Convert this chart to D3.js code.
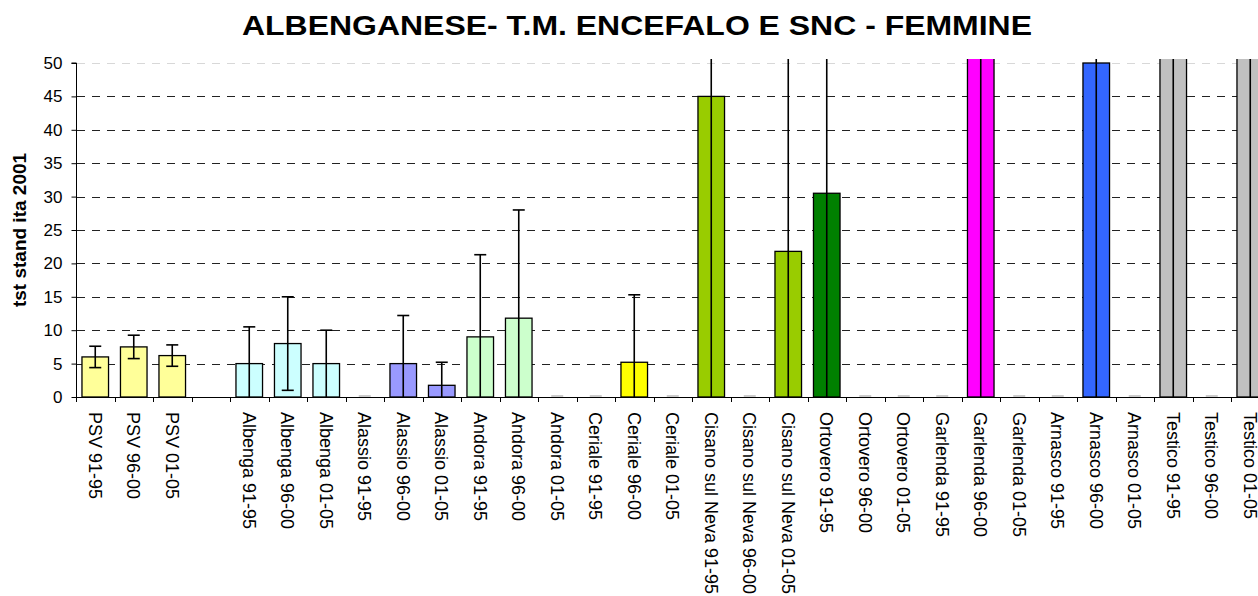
<!DOCTYPE html>
<html>
<head>
<meta charset="utf-8">
<script src="https://cdn.jsdelivr.net/npm/d3@7"></script>
<style>
  html, body { margin: 0; padding: 0; background: #fff; }
  svg { display: block; font-family: "Liberation Sans", Arial, sans-serif; }
</style>
</head>
<body>
<svg id="chart" width="1258" height="596"></svg>
<script>
// Categories (an empty slot separates the PSV group from the towns)
const categories = [
  "PSV 91-95", "PSV 96-00", "PSV 01-05", "",
  "Albenga 91-95", "Albenga 96-00", "Albenga 01-05",
  "Alassio 91-95", "Alassio 96-00", "Alassio 01-05",
  "Andora 91-95", "Andora 96-00", "Andora 01-05",
  "Ceriale 91-95", "Ceriale 96-00", "Ceriale 01-05",
  "Cisano sul Neva 91-95", "Cisano sul Neva 96-00", "Cisano sul Neva 01-05",
  "Ortovero 91-95", "Ortovero 96-00", "Ortovero 01-05",
  "Garlenda 91-95", "Garlenda 96-00", "Garlenda 01-05",
  "Arnasco 91-95", "Arnasco 96-00", "Arnasco 01-05",
  "Testico 91-95", "Testico 96-00", "Testico 01-05"
];

// Standardised rates
const values = [
  6.0, 7.5, 6.2, null,
  5.0, 8.0, 5.0,
  0, 5.0, 1.75,
  9.0, 11.8, 0,
  0, 5.2, 0,
  45.0, 0, 21.8,
  30.5, 0, 0,
  0, 95.0, 0,
  0, 50.0, 0,
  120.0, 0, 140.0
];

// Half-width of the confidence interval (symmetric)
const errors = [
  1.6, 1.75, 1.6, null,
  5.5, 7.0, 5.0,
  0, 7.2, 3.45,
  12.3, 16.2, 0,
  0, 10.1, 0,
  60.0, 0, 40.0,
  45.0, 0, 0,
  0, 120.0, 0,
  0, 70.0, 0,
  150.0, 0, 170.0
];

// Fill colour per town group
const groupColors = [
  "#FFFF99", "#FFFF99", "#FFFF99", null,
  "#CCFFFF", "#CCFFFF", "#CCFFFF",
  "#9999FF", "#9999FF", "#9999FF",
  "#CCFFCC", "#CCFFCC", "#CCFFCC",
  "#FFFF00", "#FFFF00", "#FFFF00",
  "#99CC00", "#99CC00", "#99CC00",
  "#008000", "#008000", "#008000",
  "#FF00FF", "#FF00FF", "#FF00FF",
  "#3366FF", "#3366FF", "#3366FF",
  "#C0C0C0", "#C0C0C0", "#C0C0C0"
];

const yTicks = [0, 5, 10, 15, 20, 25, 30, 35, 40, 45, 50];

const svg = d3.select("#chart");
const plotLeft = 76, plotTop = 63, plotBottom = 397;
const step = 38.5;
const plotRight = plotLeft + step * categories.length;

const idx = d3.range(categories.length);
const x = d3.scaleBand().domain(idx).range([plotLeft, plotRight])
  .paddingInner(0.31).paddingOuter(0.155);
const y = d3.scaleLinear().domain([0, 50]).range([plotBottom, plotTop]);

// Title
svg.append("text")
  .attr("x", 242).attr("y", 34.5)
  .attr("text-anchor", "start")
  .attr("font-size", 28).attr("font-weight", "bold")
  .attr("textLength", 790).attr("lengthAdjust", "spacingAndGlyphs")
  .text("ALBENGANESE- T.M. ENCEFALO E SNC - FEMMINE");

// Y axis title
svg.append("text")
  .attr("transform", `translate(26,${(plotTop + plotBottom) / 2}) rotate(-90)`)
  .attr("text-anchor", "middle")
  .attr("font-size", 19).attr("font-weight", "bold")
  .text("tst stand ita 2001");

// Gridlines
svg.append("g").selectAll("line")
  .data(yTicks.filter(t => t > 0))
  .join("line")
  .attr("x1", plotLeft + 1).attr("x2", 1258)
  .attr("y1", d => Math.round(y(d)) + 0.5).attr("y2", d => Math.round(y(d)) + 0.5)
  .attr("stroke", d => d === 50 ? "#d8d8d8" : "#222")
  .attr("stroke-width", 1)
  .attr("stroke-dasharray", "8,7");

// Plot clip
svg.append("clipPath").attr("id", "plotClip")
  .append("rect").attr("x", plotLeft).attr("y", 59)
  .attr("width", 1258 - plotLeft).attr("height", plotBottom - 59 + 1);

const plot = svg.append("g").attr("clip-path", "url(#plotClip)");

const data = idx.map(i => ({ i, v: values[i], e: errors[i], c: groupColors[i] }))
  .filter(d => d.v !== null);

// Bars
plot.selectAll("rect.bar")
  .data(data.filter(d => d.v > 0))
  .join("rect").attr("class", "bar")
  .attr("x", d => x(d.i))
  .attr("y", d => y(d.v))
  .attr("width", x.bandwidth())
  .attr("height", d => y(0) - y(d.v))
  .attr("fill", d => d.c)
  .attr("stroke", "#000")
  .attr("stroke-width", 1.3);

// Error bars
const cap = 6;
const err = plot.selectAll("g.err")
  .data(data.filter(d => d.v > 0))
  .join("g").attr("class", "err");
err.append("line")
  .attr("x1", d => x(d.i) + x.bandwidth() / 2)
  .attr("x2", d => x(d.i) + x.bandwidth() / 2)
  .attr("y1", d => y(d.v + d.e))
  .attr("y2", d => y(Math.max(0, d.v - d.e)))
  .attr("stroke", "#000").attr("stroke-width", 1.6);
err.append("line")
  .attr("x1", d => x(d.i) + x.bandwidth() / 2 - cap)
  .attr("x2", d => x(d.i) + x.bandwidth() / 2 + cap)
  .attr("y1", d => y(d.v + d.e)).attr("y2", d => y(d.v + d.e))
  .attr("stroke", "#000").attr("stroke-width", 1.6);
err.filter(d => d.v - d.e > 0).append("line")
  .attr("x1", d => x(d.i) + x.bandwidth() / 2 - cap)
  .attr("x2", d => x(d.i) + x.bandwidth() / 2 + cap)
  .attr("y1", d => y(d.v - d.e)).attr("y2", d => y(d.v - d.e))
  .attr("stroke", "#000").attr("stroke-width", 1.6);

// Zero-valued entries: only the flat cap at the baseline
plot.selectAll("line.zero")
  .data(data.filter(d => d.v === 0))
  .join("line").attr("class", "zero")
  .attr("x1", d => x(d.i) + x.bandwidth() / 2 - cap)
  .attr("x2", d => x(d.i) + x.bandwidth() / 2 + cap)
  .attr("y1", y(0) - 1).attr("y2", y(0) - 1)
  .attr("stroke", "#bbb").attr("stroke-width", 1.5);

// Y axis
const yAxis = svg.append("g")
  .attr("transform", `translate(${plotLeft + 0.5},0)`)
  .call(d3.axisLeft(y).tickValues(yTicks).tickSize(5).tickPadding(9));
yAxis.select(".domain").attr("stroke", "#000").attr("d", `M-5,${y(50)}H0V${y(0)}`);
yAxis.selectAll("text").attr("font-size", 17).attr("font-family", "Liberation Sans, Arial, sans-serif").attr("fill", "#000");

// X axis: baseline, boundary ticks and rotated labels
const xg = svg.append("g");
xg.append("line")
  .attr("x1", plotLeft).attr("x2", 1258)
  .attr("y1", plotBottom + 0.5).attr("y2", plotBottom + 0.5)
  .attr("stroke", "#000");
xg.selectAll("line.tick")
  .data(d3.range(categories.length + 1))
  .join("line").attr("class", "tick")
  .attr("x1", i => Math.round(plotLeft + i * step) + 0.5)
  .attr("x2", i => Math.round(plotLeft + i * step) + 0.5)
  .attr("y1", plotBottom).attr("y2", plotBottom + 5)
  .attr("stroke", "#000");
xg.selectAll("text")
  .data(idx)
  .join("text")
  .attr("transform", i => `translate(${x(i) + x.bandwidth() / 2 - 6.5},${plotBottom + 15}) rotate(90)`)
  .attr("font-size", 18)
  .attr("text-anchor", "start")
  .text(i => categories[i]);
</script>
</body>
</html>
